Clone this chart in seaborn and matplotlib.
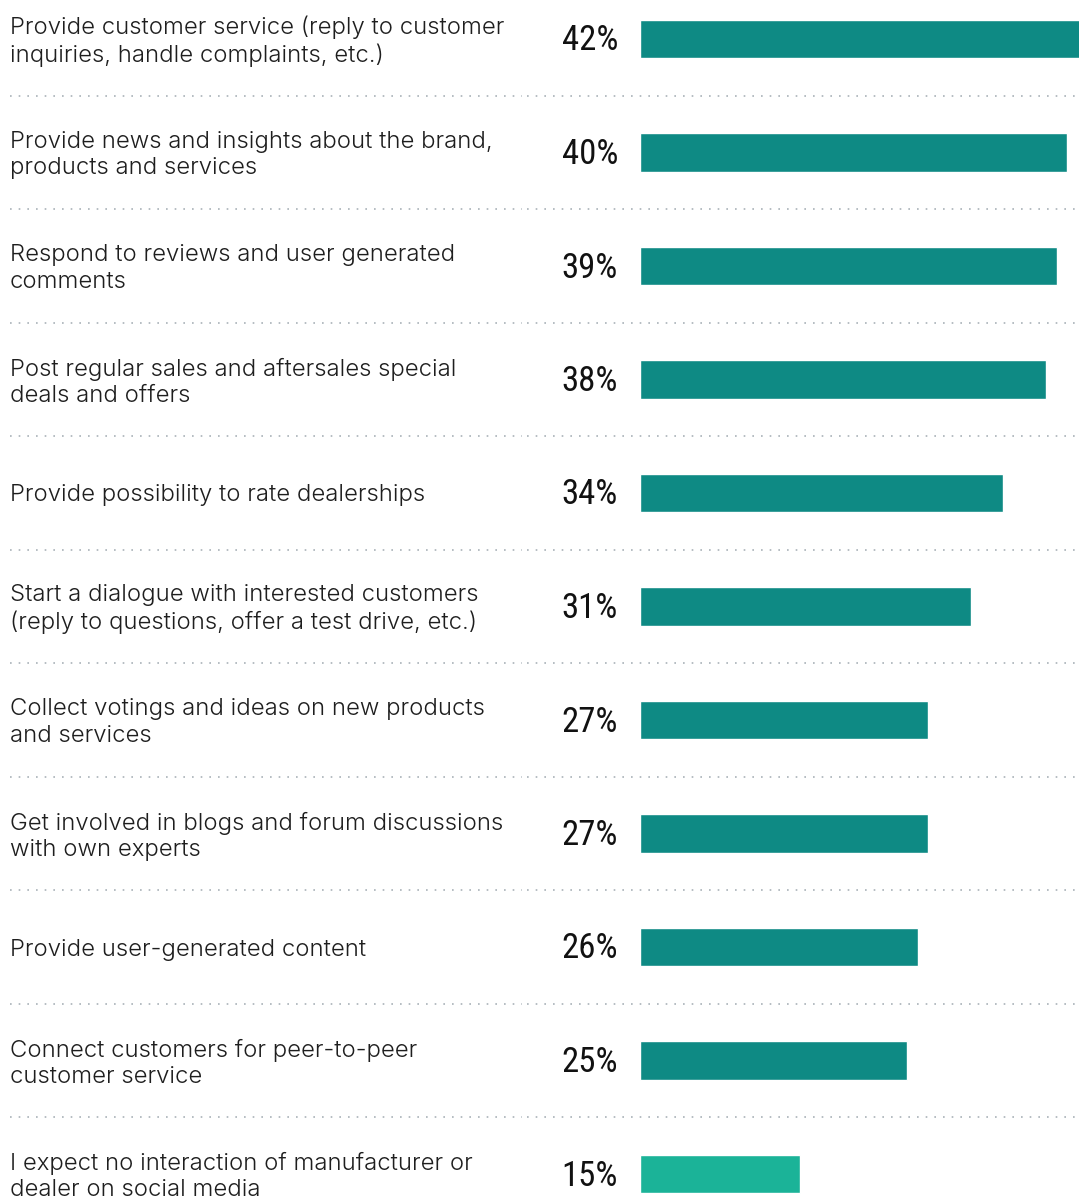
import matplotlib
matplotlib.use("Agg")
import matplotlib.pyplot as plt
import seaborn as sns
import pandas as pd
from matplotlib.transforms import blended_transform_factory

categories = [
    "Provide customer service (reply to customer\ninquiries, handle complaints, etc.)",
    "Provide news and insights about the brand,\nproducts and services",
    "Respond to reviews and user generated\ncomments",
    "Post regular sales and aftersales special\ndeals and offers",
    "Provide possibility to rate dealerships",
    "Start a dialogue with interested customers\n(reply to questions, offer a test drive, etc.)",
    "Collect votings and ideas on new products\nand services",
    "Get involved in blogs and forum discussions\nwith own experts",
    "Provide user-generated content",
    "Connect customers for peer-to-peer\ncustomer service",
    "I expect no interaction of manufacturer or\ndealer on social media",
]
values = [42, 40, 39, 38, 34, 31, 27, 27, 26, 25, 15]
bar_colors = ["#0E8A84"] * 10 + ["#1BB398"]

sns.set_theme(style="white")
plt.rcParams["font.family"] = ["Inter", "Liberation Sans", "DejaVu Sans"]

W, H = 1079, 1198
fig = plt.figure(figsize=(W / 100, H / 100), dpi=100)
row = 113.5
n = len(categories)
top_px = 39 - row / 2
top = 1 + (-top_px) / H
height = n * row / H
ax = fig.add_axes([640 / W, top - height, 439 / W, height])

df = pd.DataFrame({"label": categories, "value": values})
sns.barplot(data=df, x="value", y="label", hue="label", palette=bar_colors,
            width=0.335, orient="h", legend=False, ax=ax, saturation=1)
px_per_unit = 10.68
ax.set_xlim(0, 439 / px_per_unit)
ax.set_ylim(n - 0.5, -0.5)
ax.axis("off")

blend = blended_transform_factory(fig.transFigure, ax.transData)
dy = 2.5 / row
for i, (lab, v) in enumerate(zip(categories, values)):
    ax.text(10 / W, i + dy, lab, transform=blend, ha="left", va="center",
            fontsize=17.2, color="#1e1e1e", linespacing=1.24, clip_on=False,
            fontweight=300)
    ax.text(-22 / px_per_unit, i + 2 / row, f"{v}%", ha="right", va="center",
            fontsize=25, color="#111111", clip_on=False,
            family=["Roboto Condensed", "Liberation Sans", "DejaVu Sans"])

for i in range(n - 1):
    for x0, x1 in [(10, 522), (527, 1079)]:
        ax.plot([x0 / W, x1 / W], [i + 0.5, i + 0.5], transform=blend,
                color="#a9b1b8", lw=1.2, linestyle=(0, (1, 4.2)), clip_on=False)

fig.savefig("out.png", dpi=100)
